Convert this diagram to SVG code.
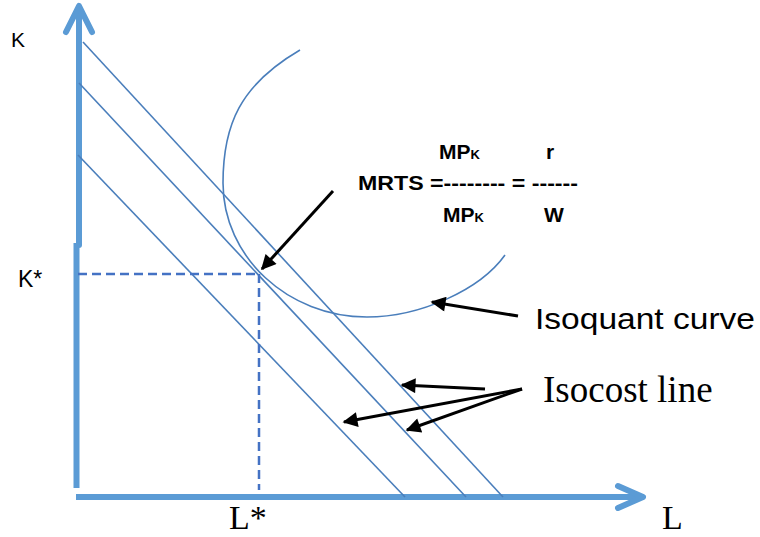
<svg xmlns="http://www.w3.org/2000/svg" width="760" height="537" viewBox="0 0 760 537">
<style>
.axis{stroke:#5B9BD5;stroke-width:6;fill:none;stroke-linecap:round;stroke-linejoin:round}
.thin{stroke:#4A7EBB;stroke-width:1.6;fill:none}
.dash{stroke:#4472C4;stroke-width:2.5;fill:none;stroke-dasharray:9 5}
.arr{stroke:#000;stroke-width:3;fill:none}
.sans{font-family:"Liberation Sans",Arial,sans-serif;fill:#000}
.serif{font-family:"Liberation Serif","Times New Roman",serif;fill:#000}
.bold{font-family:"Liberation Sans",Arial,sans-serif;font-weight:bold;fill:#000}
</style>
<defs>
<marker id="ah" viewBox="0 0 10 10" refX="9" refY="5" markerWidth="5.5" markerHeight="5" orient="auto" markerUnits="strokeWidth">
<path d="M0,0 L10,5 L0,10 Z" fill="#000"/>
</marker>
</defs>
<g id="axes">
<path class="axis" d="M79,8 V245"/>
<path class="axis" d="M66,32 L79,6 L92,32"/>
<path class="axis" d="M76.5,243 V488" style="stroke-linecap:butt"/>
<path class="axis" d="M76,497 H641" style="stroke-linecap:butt"/>
<path class="axis" d="M618,486 L643,497 L618,508"/>
</g>
<g id="isocost-lines">
<path class="thin" d="M83,42 L503,497"/>
<path class="thin" d="M79,83 L466,497"/>
<path class="thin" d="M78,155 L405,497"/>
</g>
<g id="isoquant">
<path class="thin" d="M300,50 C240,85 223,125 223,183 C223,257 288,317 367,317 C420,317 480,290 505,255"/>
</g>
<g id="guides">
<path class="dash" d="M78,274 H259"/>
<path class="dash" d="M259,274 V490"/>
</g>
<g id="connectors">
<path class="arr" d="M333,191 L262,269" marker-end="url(#ah)"/>
<path class="arr" d="M518,316 L432,302" marker-end="url(#ah)"/>
<path class="arr" d="M485,389 L402,385" marker-end="url(#ah)"/>
<path class="arr" d="M522,389 L344,422" marker-end="url(#ah)"/>
<path class="arr" d="M522,389 L407,430" marker-end="url(#ah)"/>
</g>
<g id="labels">
<text class="sans" x="11" y="47" font-size="21">K</text>
<text class="sans" x="18" y="287" font-size="23">K*</text>
<text class="serif" x="229" y="529" font-size="34">L*</text>
<text class="serif" x="662" y="529" font-size="34">L</text>
<text class="sans" x="535" y="329" font-size="29" textLength="220" lengthAdjust="spacingAndGlyphs">Isoquant curve</text>
<text class="serif" x="543" y="402" font-size="37">Isocost line</text>
</g>
<g id="formula">
<text class="bold" x="439" y="159" font-size="21">MP<tspan font-size="13">K</tspan></text>
<text class="bold" x="546" y="159" font-size="21">r</text>
<text class="bold" x="358" y="190" font-size="21" textLength="220" lengthAdjust="spacingAndGlyphs">MRTS =-------- = ------</text>
<text class="bold" x="443" y="222" font-size="21">MP<tspan font-size="13">K</tspan></text>
<text class="bold" x="544" y="222" font-size="21">W</text>
</g>
</svg>
